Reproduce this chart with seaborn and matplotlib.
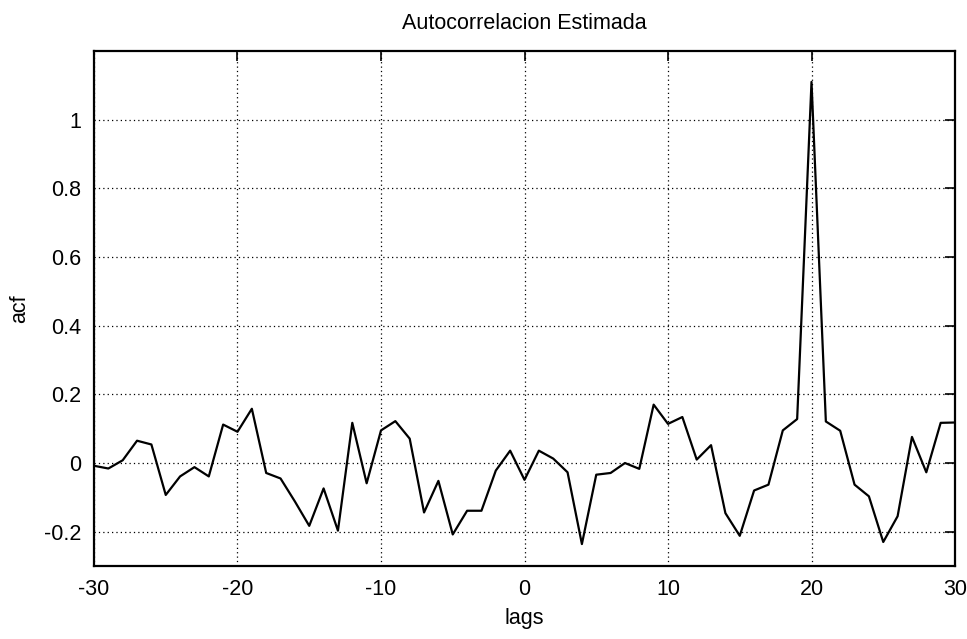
import numpy as np
import pandas as pd
import matplotlib
matplotlib.use("Agg")
import matplotlib.pyplot as plt
import seaborn as sns

# Estimated autocorrelation, lags -30 .. 30
lags = list(range(-30, 31))
acf = [
    -0.008, -0.016, 0.008, 0.065, 0.054, -0.093, -0.039, -0.012, -0.039, 0.112,
    0.091, 0.158, -0.029, -0.045, -0.112, -0.183, -0.074, -0.197, 0.117, -0.059,
    0.095, 0.122, 0.071, -0.144, -0.052, -0.208, -0.139, -0.139, -0.022, 0.036,
    -0.049, 0.036, 0.013, -0.027, -0.236, -0.034, -0.029, 0.000, -0.017, 0.170,
    0.114, 0.134, 0.010, 0.052, -0.146, -0.212, -0.080, -0.063, 0.095, 0.128,
    1.110, 0.121, 0.094, -0.063, -0.097, -0.230, -0.155, 0.076, -0.027, 0.117,
    0.118,
]
x_ticks = [-30, -20, -10, 0, 10, 20, 30]
y_ticks = [-0.2, 0, 0.2, 0.4, 0.6, 0.8, 1]

sns.set_style("white")
plt.rcParams["font.family"] = ["Liberation Sans", "DejaVu Sans"]
plt.rcParams["text.color"] = "black"
plt.rcParams["axes.labelcolor"] = "black"

df = pd.DataFrame({"lags": lags, "acf": acf})

fig = plt.figure(figsize=(9.67, 6.39), dpi=100)
ax = fig.add_axes([0.0972, 0.1142, 0.8904, 0.806])

sns.lineplot(data=df, x="lags", y="acf", ax=ax, color="black", linewidth=1.6)

ax.set_xlim(-30, 30)
ax.set_ylim(-0.3, 1.2)
ax.set_xticks(x_ticks)
ax.set_yticks(y_ticks)
ax.set_xticklabels([str(v) for v in x_ticks])
ax.set_yticklabels(["-0.2", "0", "0.2", "0.4", "0.6", "0.8", "1"])

ax.grid(True, linestyle=(0, (1, 2.5)), color="black", linewidth=0.9)
ax.tick_params(axis="both", which="both", direction="in", length=7, width=1.2,
               top=True, right=True, labelsize=15.5, colors="black", pad=9)
for s in ax.spines.values():
    s.set_visible(True)
    s.set_color("black")
    s.set_linewidth(1.6)

ax.set_title("Autocorrelacion Estimada", fontsize=15.5, pad=16, color="black")
ax.set_xlabel("lags", fontsize=15.5, labelpad=6, color="black")
ax.set_ylabel("acf", fontsize=15.5, labelpad=10, color="black")

fig.savefig("out.png", dpi=100, facecolor="white")
